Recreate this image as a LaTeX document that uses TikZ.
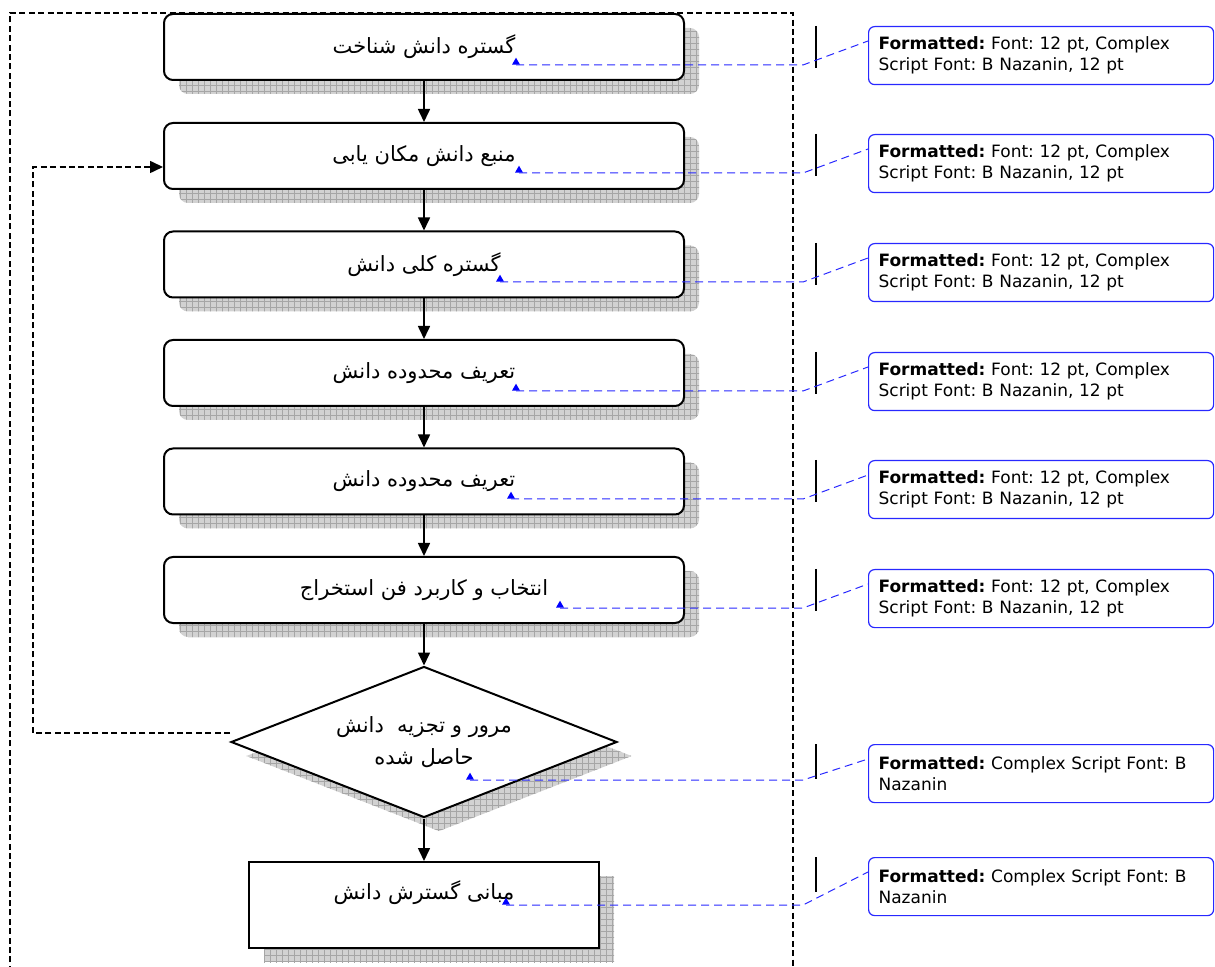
\documentclass[tikz,border=0pt]{standalone}
\usepackage{fontspec}
\setmainfont{DejaVu Sans}
\newfontfamily\persianfont[Script=Arabic]{DejaVu Sans}
\TeXXeTstate=1
\usetikzlibrary{shapes.geometric,arrows.meta,shadows,patterns}
\definecolor{commentblue}{RGB}{40,40,255}

\begin{document}
\begin{tikzpicture}[x=0.5pt, y=-0.5pt, >={Triangle[length=6.5pt,width=6pt]}]
    \tikzstyle{hatched} = [drop shadow={shadow xshift=7.5pt, shadow yshift=-7pt, fill=gray!35, opacity=1}, general shadow={shadow xshift=7.5pt, shadow yshift=-7pt, pattern=grid, pattern color=gray!70}]
    \tikzstyle{stage} = [rectangle, rounded corners=4.5pt, draw, line width=1pt, fill=white, minimum width=260pt, minimum height=33pt, font=\persianfont\fontsize{10.5}{12}\selectfont, hatched]
    \tikzstyle{decision} = [diamond, draw, line width=1pt, fill=white, aspect=2.6, inner sep=0pt, minimum width=193pt, minimum height=75.5pt, align=center, font=\persianfont\fontsize{10.5}{12}\selectfont, hatched]
    \tikzstyle{result} = [rectangle, draw, line width=1pt, fill=white, minimum width=175pt, minimum height=43pt, text height=8pt, text depth=14pt, font=\persianfont\fontsize{10.5}{12}\selectfont, hatched]
    \tikzstyle{flow} = [line width=0.8pt, ->]
    \tikzstyle{backline} = [line width=0.8pt, dash pattern=on 3pt off 1.7pt, ->]
    \tikzstyle{frame} = [line width=0.8pt, dash pattern=on 3pt off 1.7pt]
    \tikzstyle{comment} = [rectangle, draw=commentblue, line width=0.6pt, rounded corners=3pt, anchor=north west, minimum width=172.5pt, minimum height=29pt, text width=162.5pt, inner xsep=5pt, align=left, font=\fontsize{8.5}{10.5}\selectfont\frenchspacing]
    \tikzstyle{commentline} = [commentblue, line width=0.5pt, dash pattern=on 4pt off 2.5pt]
    \tikzstyle{anchortri} = [regular polygon, regular polygon sides=3, fill=blue, inner sep=0pt, minimum size=4.6pt, anchor=south]
    \tikzstyle{changebar} = [line width=1.2pt]

    \useasboundingbox (0,0) rectangle (1215,967);

    % Frame round the chart
    \draw[frame] (10,1000) -- (10,13) -- (793,13) -- (793,1000);

    % Stages
    \node[stage] (b1) at (424,47) {\beginR گستره دانش شناخت\endR};
    \node[stage] (b2) at (424,156) {\beginR منبع دانش مکان یابی\endR};
    \node[stage] (b3) at (424,264.5) {\beginR گستره کلی دانش\endR};
    \node[stage] (b4) at (424,373) {\beginR تعریف محدوده دانش\endR};
    \node[stage] (b5) at (424,481.5) {\beginR تعریف محدوده دانش\endR};
    \node[stage] (b6) at (424,590) {\beginR انتخاب و کاربرد فن استخراج\endR};

    % Decision and result
    \node[decision] (d) at (424,742) {\beginR مرور و تجزیه\ \ دانش\endR\\[4pt]\beginR حاصل شده\endR};
    \node[result] (e) at (424,905) {\beginR مبانی گسترش دانش\endR};

    % Flow
    \draw[flow] (b1) -- (b2);
    \draw[flow] (b2) -- (b3);
    \draw[flow] (b3) -- (b4);
    \draw[flow] (b4) -- (b5);
    \draw[flow] (b5) -- (b6);
    \draw[flow] (b6) -- (d);
    \draw[flow] (d) -- (e);

    % Back to the second stage
    \coordinate (back) at (33,733);
    \draw[backline] ([yshift=4.5pt]d.west) -- (back) |- ([yshift=-5.5pt]b2.west);

    % Comments
    \node[comment] (c1) at (868,26) {\textbf{Formatted:} Font: 12 pt, Complex\\Script Font: B Nazanin, 12 pt};
    \node[comment] (c2) at (868,134) {\textbf{Formatted:} Font: 12 pt, Complex\\Script Font: B Nazanin, 12 pt};
    \node[comment] (c3) at (868,243) {\textbf{Formatted:} Font: 12 pt, Complex\\Script Font: B Nazanin, 12 pt};
    \node[comment] (c4) at (868,352) {\textbf{Formatted:} Font: 12 pt, Complex\\Script Font: B Nazanin, 12 pt};
    \node[comment] (c5) at (868,460) {\textbf{Formatted:} Font: 12 pt, Complex\\Script Font: B Nazanin, 12 pt};
    \node[comment] (c6) at (868,569) {\textbf{Formatted:} Font: 12 pt, Complex\\Script Font: B Nazanin, 12 pt};
    \node[comment] (c7) at (868,744) {\textbf{Formatted:} Complex Script Font: B\\Nazanin};
    \node[comment] (c8) at (868,857) {\textbf{Formatted:} Complex Script Font: B\\Nazanin};

    % Change bars
    \draw[changebar] (816,26) -- (816,68);
    \draw[changebar] (816,134) -- (816,176);
    \draw[changebar] (816,243) -- (816,285);
    \draw[changebar] (816,352) -- (816,394);
    \draw[changebar] (816,460) -- (816,502);
    \draw[changebar] (816,569) -- (816,611);
    \draw[changebar] (816,744) -- (816,779);
    \draw[changebar] (816,857) -- (816,892);

    % Comment marks and their lines
    \node[anchortri] (a1) at (516,65) {};
    \node[anchortri] (a2) at (519,173) {};
    \node[anchortri] (a3) at (500,282) {};
    \node[anchortri] (a4) at (516,391) {};
    \node[anchortri] (a5) at (511,499) {};
    \node[anchortri] (a6) at (560,608) {};
    \node[anchortri] (a7) at (470,780) {};
    \node[anchortri] (a8) at (506,905) {};

    \coordinate (k1) at (803,65);
    \coordinate (k2) at (803,173);
    \coordinate (k3) at (803,282);
    \coordinate (k4) at (803,391);
    \coordinate (k5) at (803,499);
    \coordinate (k6) at (803,608);
    \coordinate (k7) at (803,780);
    \coordinate (k8) at (803,905);

    \draw[commentline] (a1.south) -- (k1) -- ([yshift=-7.5pt]c1.north west);
    \draw[commentline] (a2.south) -- (k2) -- ([yshift=-7.5pt]c2.north west);
    \draw[commentline] (a3.south) -- (k3) -- ([yshift=-7.5pt]c3.north west);
    \draw[commentline] (a4.south) -- (k4) -- ([yshift=-7.5pt]c4.north west);
    \draw[commentline] (a5.south) -- (k5) -- ([yshift=-7.5pt]c5.north west);
    \draw[commentline] (a6.south) -- (k6) -- ([yshift=-7.5pt]c6.north west);
    \draw[commentline] (a7.south) -- (k7) -- ([yshift=-7.5pt]c7.north west);
    \draw[commentline] (a8.south) -- (k8) -- ([yshift=-7.5pt]c8.north west);
\end{tikzpicture}
\end{document}
